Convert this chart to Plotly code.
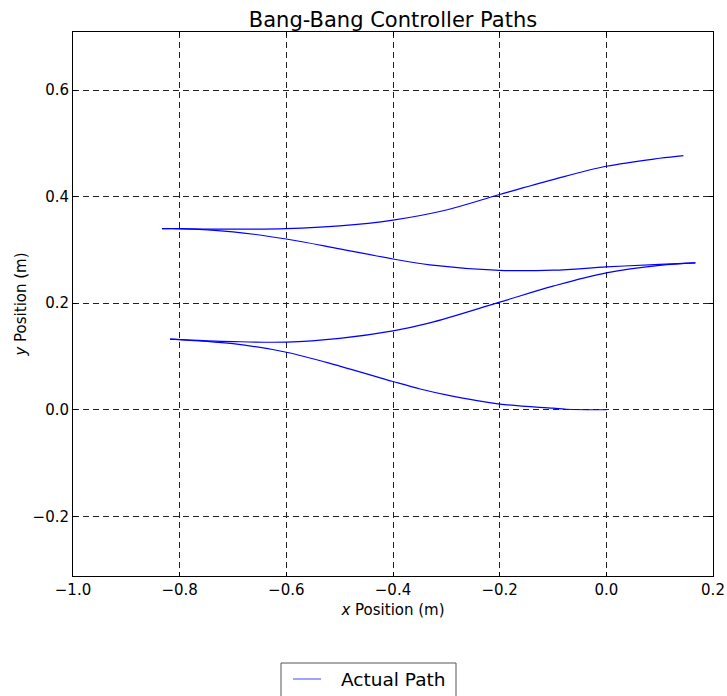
import plotly.graph_objects as go

# Path segments (x, y) in metres
seg1_x = [0.0, -0.075, -0.1, -0.2, -0.3, -0.349, -0.4, -0.5, -0.6, -0.7, -0.818]
seg1_y = [0.0, 0.001, 0.003, 0.0107, 0.028, 0.039, 0.053, 0.082, 0.108, 0.124, 0.1327]

seg2_x = [-0.818, -0.7, -0.6, -0.5, -0.4, -0.331, -0.2, -0.1, 0.0, 0.1, 0.167]
seg2_y = [0.1327, 0.128, 0.127, 0.134, 0.148, 0.163, 0.202, 0.232, 0.257, 0.271, 0.2755]

seg3_x = [0.167, 0.1, 0.0, -0.1, -0.2, -0.331, -0.4, -0.5, -0.6, -0.7, -0.8, -0.833]
seg3_y = [0.2755, 0.273, 0.268, 0.262, 0.2617, 0.272, 0.283, 0.302, 0.3205, 0.334, 0.340, 0.340]

seg4_x = [-0.833, -0.7, -0.6, -0.5, -0.4, -0.3, -0.2, -0.1, 0.0, 0.1, 0.1445]
seg4_y = [0.340, 0.339, 0.340, 0.345, 0.356, 0.375, 0.404, 0.432, 0.457, 0.472, 0.477]

segments = [(seg1_x, seg1_y), (seg2_x, seg2_y), (seg3_x, seg3_y), (seg4_x, seg4_y)]
legend_label = "Actual Path"

W, H = 727, 696
ML, MR, MT, MB = 73, 14, 32, 120
PW, PH = W - ML - MR, H - MT - MB

fig = go.Figure()
for i, (sx, sy) in enumerate(segments):
    fig.add_trace(go.Scatter(
        x=sx, y=sy, mode="lines", name=legend_label,
        line=dict(color="#0000ff", width=1.2, shape="spline", smoothing=1.0),
        showlegend=False,
    ))

axis_common = dict(
    showline=True, linecolor="black", linewidth=1, mirror="ticks",
    ticks="inside", ticklen=4, tickcolor="black",
    showgrid=True, gridcolor="#222222", griddash="6px,4px", gridwidth=1,
    zeroline=False, tickfont=dict(family="DejaVu Sans", size=15, color="black"),
    tickformat=".1f", automargin=False,
)

fig.update_layout(
    width=W, height=H,
    margin=dict(l=ML, r=MR, t=MT, b=MB, autoexpand=False),
    paper_bgcolor="white", plot_bgcolor="white",
    font=dict(family="DejaVu Sans", color="black"),
    xaxis=dict(range=[-1.0, 0.2], dtick=0.2, tick0=0,
               title=dict(text="<i>x</i> Position (m)", font=dict(size=15), standoff=6),
               **axis_common),
    yaxis=dict(range=[-0.312, 0.709], dtick=0.2, tick0=0,
               title=dict(text="<i>y</i> Position (m)", font=dict(size=15), standoff=2),
               **axis_common),
    title=dict(text="Bang-Bang Controller Paths", xref="paper", x=0.5, xanchor="center",
               yref="container", y=1 - 20 / H, yanchor="middle",
               font=dict(size=21, color="black")),
    showlegend=False,
)

# manual legend box (partly cut off at the bottom, as in the reference)
def px_x(p):
    return (p - ML) / PW

def px_y(p):
    return (H - MB - p) / PH

fig.add_shape(type="rect", xref="paper", yref="paper",
              x0=px_x(281), x1=px_x(456), y0=px_y(702), y1=px_y(663),
              line=dict(color="#555555", width=1), fillcolor="white")
fig.add_shape(type="line", xref="paper", yref="paper",
              x0=px_x(293), x1=px_x(321), y0=px_y(679), y1=px_y(679),
              line=dict(color="#6666ff", width=1.2))
fig.add_annotation(xref="paper", yref="paper", x=px_x(339), y=px_y(679),
                   xanchor="left", yanchor="middle", showarrow=False,
                   text=legend_label, font=dict(size=18.5, color="black"))

fig.write_html("out.html")
